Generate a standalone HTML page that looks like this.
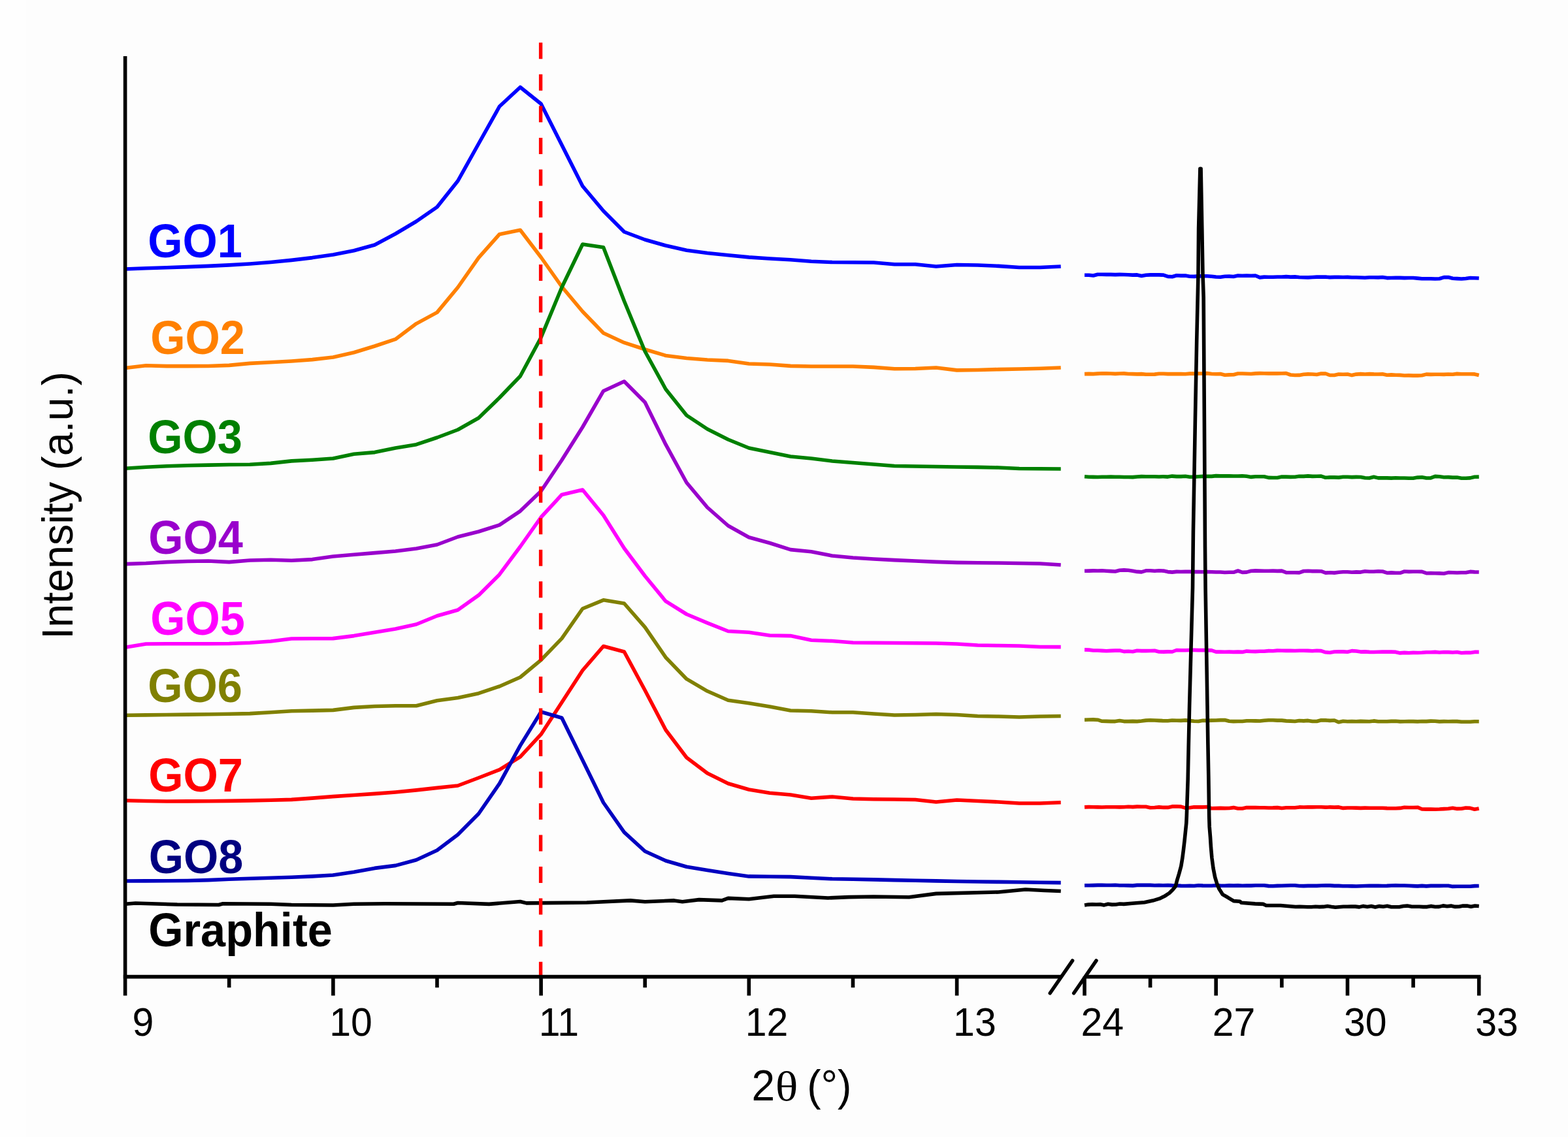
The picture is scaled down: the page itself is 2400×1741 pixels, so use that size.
<!DOCTYPE html>
<html lang="en"><head><meta charset="utf-8"><title>XRD patterns of GO1-GO8 and graphite</title>
<style>
html,body{margin:0;padding:0;background:#fff;}
body{width:2400px;height:1741px;}
svg{display:block;}
text{font-family:"Liberation Sans",Arial,Helvetica,sans-serif;}
.lab{font-weight:bold;font-size:68.5px;}
.tick{font-size:59px;fill:#000;text-anchor:middle;}
.title{font-size:64px;fill:#000;}
.crv{fill:none;stroke-width:5.6;stroke-linejoin:round;stroke-linecap:butt;}
</style></head><body>
<svg width="2400" height="1741" viewBox="0 0 2400 1741">
<rect x="0" y="0" width="2400" height="1741" fill="#fdfdfd"/>
<rect x="0" y="0" width="40" height="1741" fill="#fefefe"/>

<polyline class="crv" stroke="#0000ff" points="191.6,412.0 223.4,410.8 255.2,409.7 287.1,408.6 318.9,407.4 350.7,405.9 382.5,404.0 414.4,401.5 446.2,398.4 478.0,394.6 509.9,390.0 541.7,383.7 573.5,375.0 605.3,358.0 637.2,339.0 669.0,317.0 700.8,277.0 732.6,220.0 764.5,163.0 796.3,133.5 828.1,159.0 859.9,222.0 891.7,285.0 923.6,323.0 955.4,355.0 987.2,367.0 1019.0,376.0 1050.9,383.3 1082.7,387.5 1114.5,390.7 1146.3,393.9 1178.2,396.0 1210.0,397.8 1241.8,400.2 1273.7,401.5 1305.5,401.8 1337.3,402.0 1369.1,404.7 1401.0,404.7 1432.8,408.0 1464.6,405.5 1496.4,406.0 1528.2,407.4 1560.1,409.5 1591.9,409.5 1623.7,408.0"/>
<polyline class="crv" stroke="#0000ff" points="1660.0,421.3 1666.7,421.2 1673.4,422.0 1680.1,420.2 1686.8,420.2 1693.5,420.4 1700.2,420.4 1707.0,420.6 1713.7,420.4 1720.4,420.5 1727.1,420.8 1733.8,421.1 1740.5,420.9 1747.2,422.4 1753.9,421.2 1760.6,420.9 1767.3,420.9 1774.0,420.9 1780.7,421.1 1787.5,423.4 1794.2,423.7 1800.9,421.7 1807.6,422.1 1814.3,422.1 1821.0,423.3 1827.7,423.4 1834.4,422.9 1841.1,422.8 1847.8,422.8 1854.5,423.2 1861.2,424.0 1867.9,424.2 1874.7,423.3 1881.4,423.1 1888.1,423.5 1894.8,422.1 1901.5,422.3 1908.2,422.0 1914.9,422.3 1921.6,422.0 1928.3,424.9 1935.0,424.1 1941.7,424.2 1948.4,424.3 1955.2,424.0 1961.9,424.0 1968.6,423.6 1975.3,424.1 1982.0,423.9 1988.7,424.5 1995.4,424.7 2002.1,424.9 2008.8,424.5 2015.5,424.1 2022.2,424.1 2028.9,424.1 2035.6,424.6 2042.4,424.4 2049.1,424.4 2055.8,424.5 2062.5,424.4 2069.2,424.7 2075.9,424.8 2082.6,425.0 2089.3,425.2 2096.0,424.7 2102.7,424.8 2109.4,424.9 2116.1,424.5 2122.9,425.6 2129.6,425.5 2136.3,425.2 2143.0,425.4 2149.7,425.6 2156.4,425.5 2163.1,425.5 2169.8,426.1 2176.5,426.7 2183.2,426.8 2189.9,426.7 2196.6,427.0 2203.3,426.7 2210.1,424.6 2216.8,424.5 2223.5,426.3 2230.2,426.6 2236.9,427.0 2243.6,426.5 2250.3,425.5 2257.0,425.7 2263.7,426.0"/>
<polyline class="crv" stroke="#ff8000" points="191.6,563.5 223.4,559.8 255.2,560.6 287.1,560.6 318.9,560.5 350.7,559.4 382.5,556.4 414.4,554.7 446.2,553.0 478.0,550.6 509.9,547.0 541.7,539.7 573.5,530.0 605.3,519.4 637.2,495.6 669.0,478.4 700.8,440.0 732.6,394.7 764.5,358.7 796.3,352.3 828.1,394.0 859.9,439.0 891.7,477.0 923.6,510.0 955.4,524.7 987.2,535.0 1019.0,544.5 1050.9,548.5 1082.7,551.0 1114.5,552.4 1146.3,557.0 1178.2,558.0 1210.0,560.4 1241.8,561.0 1273.7,561.0 1305.5,561.0 1337.3,562.4 1369.1,564.8 1401.0,564.5 1432.8,563.0 1464.6,566.9 1496.4,566.5 1528.2,565.6 1560.1,565.0 1591.9,564.2 1623.7,563.0"/>
<polyline class="crv" stroke="#ff8000" points="1660.0,572.6 1666.7,572.4 1673.4,572.6 1680.1,572.1 1686.8,571.8 1693.5,571.9 1700.2,572.0 1707.0,572.4 1713.7,572.0 1720.4,571.9 1727.1,572.5 1733.8,572.6 1740.5,572.9 1747.2,572.6 1753.9,573.2 1760.6,573.2 1767.3,573.1 1774.0,572.3 1780.7,572.2 1787.5,572.6 1794.2,572.5 1800.9,572.6 1807.6,572.6 1814.3,572.7 1821.0,572.1 1827.7,572.1 1834.4,572.0 1841.1,571.9 1847.8,571.6 1854.5,572.5 1861.2,572.7 1867.9,572.6 1874.7,574.2 1881.4,573.9 1888.1,573.8 1894.8,572.0 1901.5,572.0 1908.2,572.3 1914.9,572.5 1921.6,571.9 1928.3,571.6 1935.0,571.8 1941.7,571.9 1948.4,571.9 1955.2,571.9 1961.9,571.8 1968.6,571.6 1975.3,574.0 1982.0,574.5 1988.7,574.4 1995.4,573.3 2002.1,572.9 2008.8,573.0 2015.5,573.5 2022.2,572.1 2028.9,572.0 2035.6,574.5 2042.4,574.5 2049.1,573.1 2055.8,573.3 2062.5,573.0 2069.2,574.6 2075.9,573.1 2082.6,572.6 2089.3,573.0 2096.0,572.6 2102.7,572.9 2109.4,573.0 2116.1,572.8 2122.9,574.3 2129.6,573.9 2136.3,574.3 2143.0,574.4 2149.7,575.0 2156.4,574.9 2163.1,575.1 2169.8,575.1 2176.5,574.7 2183.2,573.1 2189.9,573.4 2196.6,573.3 2203.3,573.3 2210.1,573.4 2216.8,573.0 2223.5,573.3 2230.2,572.4 2236.9,572.8 2243.6,572.8 2250.3,572.7 2257.0,572.9 2263.7,574.4"/>
<polyline class="crv" stroke="#008000" points="191.6,717.2 223.4,715.3 255.2,713.8 287.1,712.8 318.9,712.1 350.7,711.5 382.5,711.2 414.4,709.4 446.2,705.9 478.0,704.2 509.9,702.0 541.7,695.3 573.5,692.6 605.3,686.0 637.2,680.7 669.0,670.0 700.8,658.0 732.6,640.0 764.5,609.0 796.3,576.0 828.1,516.7 859.9,440.0 891.7,374.0 923.6,378.8 955.4,461.0 987.2,538.0 1019.0,596.0 1050.9,636.0 1082.7,657.0 1114.5,673.0 1146.3,686.0 1178.2,692.6 1210.0,699.0 1241.8,702.0 1273.7,706.0 1305.5,708.5 1337.3,711.0 1369.1,713.5 1401.0,714.0 1432.8,714.5 1464.6,715.0 1496.4,715.4 1528.2,716.0 1560.1,717.5 1591.9,717.8 1623.7,718.0"/>
<polyline class="crv" stroke="#008000" points="1660.0,729.8 1666.7,730.3 1673.4,730.4 1680.1,730.5 1686.8,730.2 1693.5,730.3 1700.2,730.1 1707.0,730.2 1713.7,730.3 1720.4,730.5 1727.1,730.5 1733.8,730.6 1740.5,730.0 1747.2,729.6 1753.9,729.8 1760.6,729.8 1767.3,729.8 1774.0,730.0 1780.7,729.7 1787.5,730.1 1794.2,729.1 1800.9,729.6 1807.6,729.6 1814.3,729.3 1821.0,730.3 1827.7,730.2 1834.4,729.7 1841.1,729.4 1847.8,729.4 1854.5,729.4 1861.2,728.6 1867.9,728.9 1874.7,728.9 1881.4,728.8 1888.1,729.0 1894.8,729.0 1901.5,728.7 1908.2,729.3 1914.9,730.4 1921.6,729.8 1928.3,729.8 1935.0,729.8 1941.7,731.4 1948.4,731.5 1955.2,731.5 1961.9,730.1 1968.6,730.1 1975.3,730.4 1982.0,730.2 1988.7,729.3 1995.4,729.4 2002.1,728.9 2008.8,729.4 2015.5,729.2 2022.2,729.1 2028.9,731.3 2035.6,730.9 2042.4,730.9 2049.1,731.1 2055.8,730.2 2062.5,730.3 2069.2,730.6 2075.9,730.4 2082.6,730.5 2089.3,731.7 2096.0,732.0 2102.7,730.3 2109.4,731.9 2116.1,731.7 2122.9,731.9 2129.6,732.1 2136.3,731.7 2143.0,732.0 2149.7,732.0 2156.4,732.2 2163.1,732.2 2169.8,731.1 2176.5,730.7 2183.2,732.0 2189.9,731.9 2196.6,729.4 2203.3,729.7 2210.1,730.7 2216.8,730.6 2223.5,731.1 2230.2,731.1 2236.9,732.2 2243.6,732.3 2250.3,731.9 2257.0,730.2 2263.7,730.1"/>
<polyline class="crv" stroke="#9900cc" points="191.6,863.6 223.4,862.5 255.2,860.6 287.1,859.5 318.9,859.0 350.7,860.6 382.5,858.0 414.4,857.2 446.2,858.3 478.0,856.6 509.9,852.0 541.7,849.2 573.5,846.6 605.3,844.0 637.2,840.0 669.0,834.0 700.8,822.0 732.6,814.0 764.5,803.8 796.3,782.6 828.1,752.0 859.9,704.5 891.7,654.0 923.6,598.7 955.4,584.0 987.2,616.0 1019.0,680.7 1050.9,739.0 1082.7,777.0 1114.5,805.0 1146.3,822.8 1178.2,831.5 1210.0,841.6 1241.8,844.8 1273.7,851.0 1305.5,854.0 1337.3,856.0 1369.1,857.6 1401.0,859.0 1432.8,860.4 1464.6,861.4 1496.4,861.7 1528.2,862.0 1560.1,862.5 1591.9,863.0 1623.7,865.0"/>
<polyline class="crv" stroke="#9900cc" points="1660.0,874.3 1666.7,874.1 1673.4,873.9 1680.1,874.0 1686.8,873.8 1693.5,874.2 1700.2,874.6 1707.0,875.0 1713.7,873.3 1720.4,872.9 1727.1,873.2 1733.8,874.2 1740.5,875.4 1747.2,875.9 1753.9,873.8 1760.6,873.8 1767.3,874.2 1774.0,873.8 1780.7,874.1 1787.5,875.6 1794.2,876.1 1800.9,875.4 1807.6,875.5 1814.3,875.2 1821.0,875.4 1827.7,875.6 1834.4,875.6 1841.1,875.7 1847.8,875.6 1854.5,875.8 1861.2,876.0 1867.9,876.0 1874.7,876.5 1881.4,876.2 1888.1,876.3 1894.8,874.0 1901.5,876.4 1908.2,876.1 1914.9,874.3 1921.6,873.9 1928.3,874.1 1935.0,874.3 1941.7,874.2 1948.4,874.1 1955.2,874.4 1961.9,874.1 1968.6,876.7 1975.3,876.7 1982.0,876.8 1988.7,876.9 1995.4,874.5 2002.1,874.3 2008.8,874.6 2015.5,874.5 2022.2,874.7 2028.9,877.1 2035.6,876.8 2042.4,877.1 2049.1,876.2 2055.8,875.7 2062.5,875.8 2069.2,876.2 2075.9,875.9 2082.6,876.1 2089.3,874.8 2096.0,875.3 2102.7,875.3 2109.4,874.7 2116.1,875.0 2122.9,877.2 2129.6,876.9 2136.3,877.2 2143.0,877.3 2149.7,875.0 2156.4,875.4 2163.1,875.2 2169.8,875.2 2176.5,875.4 2183.2,877.7 2189.9,877.6 2196.6,877.8 2203.3,877.9 2210.1,878.2 2216.8,876.6 2223.5,876.7 2230.2,877.0 2236.9,876.8 2243.6,876.8 2250.3,875.4 2257.0,875.9 2263.7,876.0"/>
<polyline class="crv" stroke="#ff00ff" points="191.6,991.3 223.4,986.0 255.2,985.8 287.1,985.7 318.9,985.7 350.7,985.5 382.5,984.3 414.4,982.0 446.2,978.0 478.0,977.8 509.9,977.6 541.7,973.6 573.5,968.3 605.3,963.0 637.2,956.0 669.0,943.0 700.8,934.0 732.6,911.4 764.5,879.7 796.3,837.0 828.1,792.0 859.9,757.5 891.7,750.0 923.6,789.0 955.4,839.5 987.2,882.0 1019.0,920.7 1050.9,940.5 1082.7,953.8 1114.5,966.5 1146.3,968.3 1178.2,973.0 1210.0,973.6 1241.8,980.2 1273.7,981.5 1305.5,984.0 1337.3,984.3 1369.1,984.5 1401.0,984.7 1432.8,985.0 1464.6,986.0 1496.4,988.0 1528.2,988.5 1560.1,989.0 1591.9,990.5 1623.7,990.6"/>
<polyline class="crv" stroke="#ff00ff" points="1660.0,994.9 1666.7,995.1 1673.4,996.0 1680.1,996.0 1686.8,996.4 1693.5,996.7 1700.2,996.4 1707.0,996.1 1713.7,996.0 1720.4,997.6 1727.1,997.3 1733.8,997.8 1740.5,996.3 1747.2,996.6 1753.9,996.6 1760.6,996.5 1767.3,996.3 1774.0,998.0 1780.7,998.1 1787.5,997.9 1794.2,998.0 1800.9,995.5 1807.6,995.7 1814.3,995.7 1821.0,995.5 1827.7,995.4 1834.4,995.6 1841.1,995.6 1847.8,995.6 1854.5,995.9 1861.2,998.1 1867.9,998.1 1874.7,998.3 1881.4,998.1 1888.1,998.4 1894.8,998.1 1901.5,998.4 1908.2,997.1 1914.9,997.5 1921.6,997.6 1928.3,997.3 1935.0,997.2 1941.7,996.6 1948.4,996.7 1955.2,996.1 1961.9,996.2 1968.6,996.4 1975.3,996.3 1982.0,996.5 1988.7,996.3 1995.4,996.3 2002.1,996.4 2008.8,996.8 2015.5,996.3 2022.2,996.6 2028.9,998.8 2035.6,999.3 2042.4,998.0 2049.1,997.9 2055.8,997.9 2062.5,998.2 2069.2,996.6 2075.9,997.0 2082.6,998.1 2089.3,997.9 2096.0,998.4 2102.7,998.5 2109.4,998.3 2116.1,998.1 2122.9,998.1 2129.6,998.1 2136.3,998.4 2143.0,999.9 2149.7,999.4 2156.4,999.8 2163.1,999.4 2169.8,999.5 2176.5,999.3 2183.2,998.7 2189.9,998.7 2196.6,998.4 2203.3,999.0 2210.1,998.5 2216.8,998.6 2223.5,999.0 2230.2,998.5 2236.9,999.8 2243.6,999.4 2250.3,999.4 2257.0,998.4 2263.7,998.4"/>
<polyline class="crv" stroke="#808000" points="191.6,1095.3 223.4,1094.9 255.2,1094.5 287.1,1094.1 318.9,1093.7 350.7,1093.3 382.5,1092.6 414.4,1090.7 446.2,1088.7 478.0,1088.1 509.9,1087.4 541.7,1083.4 573.5,1081.5 605.3,1080.7 637.2,1080.7 669.0,1072.8 700.8,1068.5 732.6,1061.7 764.5,1051.0 796.3,1037.0 828.1,1010.6 859.9,977.6 891.7,932.0 923.6,918.8 955.4,924.0 987.2,960.4 1019.0,1006.7 1050.9,1039.7 1082.7,1058.3 1114.5,1072.3 1146.3,1076.8 1178.2,1082.0 1210.0,1088.0 1241.8,1088.7 1273.7,1090.8 1305.5,1090.8 1337.3,1093.0 1369.1,1095.0 1401.0,1094.5 1432.8,1093.5 1464.6,1094.5 1496.4,1096.5 1528.2,1097.0 1560.1,1098.0 1591.9,1097.0 1623.7,1096.5"/>
<polyline class="crv" stroke="#808000" points="1660.0,1102.2 1666.7,1102.0 1673.4,1101.9 1680.1,1102.2 1686.8,1104.3 1693.5,1104.4 1700.2,1104.6 1707.0,1104.6 1713.7,1103.6 1720.4,1104.6 1727.1,1104.6 1733.8,1104.4 1740.5,1104.6 1747.2,1104.0 1753.9,1103.1 1760.6,1102.8 1767.3,1103.0 1774.0,1103.4 1780.7,1103.7 1787.5,1103.7 1794.2,1103.0 1800.9,1103.2 1807.6,1103.4 1814.3,1102.9 1821.0,1103.6 1827.7,1104.3 1834.4,1104.5 1841.1,1103.2 1847.8,1103.4 1854.5,1103.1 1861.2,1103.0 1867.9,1102.6 1874.7,1102.5 1881.4,1104.2 1888.1,1104.6 1894.8,1104.5 1901.5,1104.5 1908.2,1103.8 1914.9,1103.7 1921.6,1103.9 1928.3,1104.0 1935.0,1103.2 1941.7,1102.7 1948.4,1102.8 1955.2,1103.1 1961.9,1103.1 1968.6,1103.9 1975.3,1104.1 1982.0,1104.5 1988.7,1103.5 1995.4,1103.9 2002.1,1103.4 2008.8,1104.5 2015.5,1104.5 2022.2,1102.8 2028.9,1102.9 2035.6,1103.4 2042.4,1103.0 2049.1,1105.8 2055.8,1104.3 2062.5,1104.7 2069.2,1104.5 2075.9,1104.7 2082.6,1104.4 2089.3,1104.6 2096.0,1104.8 2102.7,1103.9 2109.4,1104.7 2116.1,1104.8 2122.9,1104.8 2129.6,1104.4 2136.3,1104.3 2143.0,1104.9 2149.7,1104.7 2156.4,1104.6 2163.1,1104.6 2169.8,1104.9 2176.5,1104.5 2183.2,1104.6 2189.9,1104.1 2196.6,1104.3 2203.3,1104.9 2210.1,1104.6 2216.8,1104.8 2223.5,1104.6 2230.2,1104.6 2236.9,1105.3 2243.6,1105.2 2250.3,1105.2 2257.0,1104.8 2263.7,1104.8"/>
<polyline class="crv" stroke="#ff0000" points="191.6,1225.7 223.4,1226.5 255.2,1227.0 287.1,1226.9 318.9,1226.7 350.7,1226.4 382.5,1225.9 414.4,1225.3 446.2,1224.4 478.0,1222.1 509.9,1219.6 541.7,1217.5 573.5,1215.4 605.3,1213.0 637.2,1209.9 669.0,1206.4 700.8,1203.0 732.6,1191.0 764.5,1178.6 796.3,1158.8 828.1,1124.4 859.9,1075.4 891.7,1026.5 923.6,989.5 955.4,998.0 987.2,1057.0 1019.0,1117.8 1050.9,1160.0 1082.7,1184.0 1114.5,1199.8 1146.3,1209.0 1178.2,1214.3 1210.0,1217.0 1241.8,1222.3 1273.7,1220.0 1305.5,1223.0 1337.3,1223.8 1369.1,1224.0 1401.0,1224.5 1432.8,1228.0 1464.6,1225.0 1496.4,1226.5 1528.2,1228.0 1560.1,1230.0 1591.9,1230.0 1623.7,1228.7"/>
<polyline class="crv" stroke="#ff0000" points="1660.0,1235.9 1666.7,1235.6 1673.4,1235.8 1680.1,1235.9 1686.8,1236.0 1693.5,1235.7 1700.2,1235.7 1707.0,1235.7 1713.7,1235.9 1720.4,1235.7 1727.1,1235.2 1733.8,1235.6 1740.5,1235.1 1747.2,1235.3 1753.9,1235.3 1760.6,1236.8 1767.3,1236.5 1774.0,1235.9 1780.7,1236.4 1787.5,1236.4 1794.2,1234.9 1800.9,1234.8 1807.6,1235.1 1814.3,1237.1 1821.0,1236.8 1827.7,1235.8 1834.4,1235.9 1841.1,1235.9 1847.8,1235.5 1854.5,1237.8 1861.2,1237.6 1867.9,1237.4 1874.7,1237.6 1881.4,1237.5 1888.1,1236.6 1894.8,1238.0 1901.5,1238.0 1908.2,1236.5 1914.9,1236.6 1921.6,1236.5 1928.3,1236.7 1935.0,1236.7 1941.7,1237.0 1948.4,1236.9 1955.2,1236.6 1961.9,1237.5 1968.6,1236.8 1975.3,1236.8 1982.0,1236.8 1988.7,1235.9 1995.4,1236.0 2002.1,1235.8 2008.8,1235.9 2015.5,1235.8 2022.2,1235.8 2028.9,1236.1 2035.6,1235.9 2042.4,1236.1 2049.1,1235.9 2055.8,1237.4 2062.5,1237.0 2069.2,1237.0 2075.9,1237.1 2082.6,1237.4 2089.3,1237.1 2096.0,1237.3 2102.7,1237.2 2109.4,1237.2 2116.1,1237.2 2122.9,1237.6 2129.6,1237.7 2136.3,1237.7 2143.0,1237.4 2149.7,1236.3 2156.4,1236.5 2163.1,1236.5 2169.8,1236.2 2176.5,1239.0 2183.2,1239.1 2189.9,1239.0 2196.6,1239.2 2203.3,1239.0 2210.1,1238.6 2216.8,1238.2 2223.5,1237.2 2230.2,1238.4 2236.9,1238.3 2243.6,1237.0 2250.3,1237.4 2257.0,1239.3 2263.7,1237.9"/>
<polyline class="crv" stroke="#0000c0" points="191.6,1349.0 223.4,1348.9 255.2,1348.7 287.1,1348.5 318.9,1347.6 350.7,1346.3 382.5,1345.3 414.4,1344.3 446.2,1343.3 478.0,1341.9 509.9,1340.0 541.7,1335.3 573.5,1329.4 605.3,1325.4 637.2,1316.7 669.0,1302.0 700.8,1278.0 732.6,1246.0 764.5,1199.8 796.3,1141.6 828.1,1090.0 859.9,1099.3 891.7,1164.0 923.6,1229.0 955.4,1274.4 987.2,1303.5 1019.0,1318.0 1050.9,1327.3 1082.7,1332.6 1114.5,1337.4 1146.3,1341.9 1178.2,1342.3 1210.0,1342.6 1241.8,1344.2 1273.7,1345.8 1305.5,1346.3 1337.3,1346.9 1369.1,1347.6 1401.0,1348.3 1432.8,1348.9 1464.6,1349.5 1496.4,1350.0 1528.2,1350.4 1560.1,1350.8 1591.9,1351.2 1623.7,1351.6"/>
<polyline class="crv" stroke="#0000c0" points="1660.0,1355.7 1666.7,1355.7 1673.4,1355.6 1680.1,1355.4 1686.8,1355.4 1693.5,1355.5 1700.2,1355.5 1707.0,1355.3 1713.7,1355.8 1720.4,1355.8 1727.1,1355.9 1733.8,1356.1 1740.5,1355.4 1747.2,1355.2 1753.9,1355.4 1760.6,1355.4 1767.3,1355.7 1774.0,1355.5 1780.7,1355.8 1787.5,1355.5 1794.2,1355.9 1800.9,1356.0 1807.6,1356.4 1814.3,1356.5 1821.0,1356.4 1827.7,1356.5 1834.4,1355.8 1841.1,1356.1 1847.8,1356.2 1854.5,1356.2 1861.2,1355.7 1867.9,1356.1 1874.7,1356.3 1881.4,1355.9 1888.1,1356.1 1894.8,1355.9 1901.5,1356.3 1908.2,1356.1 1914.9,1356.1 1921.6,1355.8 1928.3,1355.7 1935.0,1355.8 1941.7,1356.6 1948.4,1356.8 1955.2,1356.4 1961.9,1356.3 1968.6,1356.0 1975.3,1355.7 1982.0,1355.8 1988.7,1356.5 1995.4,1356.6 2002.1,1356.4 2008.8,1356.4 2015.5,1356.4 2022.2,1356.0 2028.9,1355.8 2035.6,1355.9 2042.4,1356.4 2049.1,1356.4 2055.8,1356.8 2062.5,1356.8 2069.2,1356.9 2075.9,1357.0 2082.6,1356.7 2089.3,1356.5 2096.0,1356.4 2102.7,1356.4 2109.4,1356.2 2116.1,1356.5 2122.9,1356.4 2129.6,1356.0 2136.3,1355.9 2143.0,1356.0 2149.7,1356.0 2156.4,1356.2 2163.1,1356.6 2169.8,1356.9 2176.5,1356.4 2183.2,1356.9 2189.9,1356.4 2196.6,1356.2 2203.3,1356.4 2210.1,1356.3 2216.8,1356.2 2223.5,1357.4 2230.2,1357.2 2236.9,1357.2 2243.6,1357.2 2250.3,1357.2 2257.0,1356.6 2263.7,1356.5"/>
<polyline class="crv" stroke="#000" points="191.6,1384.2 207.5,1383.0 223.4,1383.5 271.2,1385.0 334.8,1385.5 341.2,1383.8 414.4,1384.2 446.2,1385.5 509.9,1386.0 541.7,1384.2 589.4,1383.7 694.4,1384.2 700.8,1382.5 748.5,1384.4 796.3,1380.5 805.8,1382.9 898.1,1382.0 964.9,1378.9 987.2,1380.7 1031.8,1378.9 1044.5,1380.7 1070.0,1377.6 1105.0,1378.9 1114.5,1375.4 1146.3,1376.8 1184.5,1372.3 1216.4,1372.3 1267.3,1375.0 1299.1,1373.6 1337.3,1373.0 1391.4,1373.7 1432.8,1368.4 1528.2,1366.0 1569.6,1362.0 1598.3,1363.5 1623.7,1364.5"/>
<polyline class="crv" style="stroke-linejoin:round" stroke="#000" points="1660.0,1386.0 1666.0,1385.1 1672.0,1384.8 1678.0,1385.0 1684.0,1384.7 1690.0,1385.9 1696.0,1384.3 1702.0,1385.1 1708.0,1385.0 1714.0,1384.0 1720.0,1384.4 1732.7,1383.3 1751.7,1381.7 1764.4,1379.1 1775.0,1375.9 1783.5,1371.7 1789.8,1367.5 1795.1,1362.2 1799.4,1356.9 1801.5,1348.4 1804.7,1337.8 1807.8,1326.2 1809.9,1313.5 1811.5,1300.8 1813.1,1287.0 1814.7,1271.2 1815.8,1260.6 1816.3,1250.0 1818.2,1193.0 1819.3,1140.0 1820.6,1081.0 1825.5,900.0 1826.4,814.0 1828.2,712.0 1829.3,648.0 1831.7,522.0 1834.0,420.0 1834.6,350.0 1836.9,258.2 1838.1,258.2 1839.8,350.0 1841.0,420.0 1842.2,455.0 1843.4,645.0 1844.5,838.0 1845.1,900.0 1848.0,1081.0 1848.9,1140.0 1849.9,1193.0 1850.7,1250.0 1851.2,1265.9 1852.5,1281.7 1853.5,1297.6 1854.9,1313.5 1857.0,1329.4 1859.7,1343.1 1862.9,1353.7 1866.0,1361.1 1871.3,1369.6 1878.7,1373.8 1888.3,1379.6 1897.8,1380.2 1899.9,1382.3 1921.0,1383.9 1933.8,1384.4 1938.0,1386.5 1960.0,1386.5 1983.0,1388.5 1989.1,1388.3 1995.2,1388.5 2001.3,1388.7 2007.4,1388.7 2013.5,1388.2 2019.6,1388.6 2025.7,1388.4 2031.8,1387.5 2037.9,1388.5 2044.0,1389.2 2050.1,1388.7 2056.2,1388.2 2062.3,1388.3 2068.4,1388.0 2074.5,1388.1 2080.6,1388.9 2086.7,1387.4 2092.8,1388.4 2098.9,1387.5 2105.0,1389.0 2111.1,1387.6 2117.2,1388.3 2123.3,1387.3 2129.5,1388.7 2135.6,1388.7 2141.7,1388.7 2147.8,1387.5 2153.9,1387.1 2160.0,1388.1 2166.1,1388.2 2172.2,1388.2 2178.3,1388.6 2184.4,1388.6 2190.5,1387.4 2196.6,1388.5 2202.7,1388.4 2208.8,1386.9 2214.9,1387.7 2221.0,1387.1 2227.1,1388.4 2233.2,1388.2 2239.3,1387.1 2245.4,1387.0 2251.5,1388.3 2257.6,1387.0 2263.7,1387.5"/>
<line x1="827.6" y1="65.3" x2="827.6" y2="1496" stroke="#ff0000" stroke-width="5.4" stroke-dasharray="25 23.53"/>
<g stroke="#000" stroke-width="5.6" fill="none" stroke-linecap="butt">
<line x1="191.6" y1="86" x2="191.6" y2="1524.5"/>
<line x1="188.8" y1="1495.6" x2="1624" y2="1495.6"/>
<line x1="1660" y1="1495.6" x2="2266.5" y2="1495.6"/>
<line x1="509.9" y1="1495.6" x2="509.9" y2="1524.5"/>
<line x1="828.1" y1="1495.6" x2="828.1" y2="1524.5"/>
<line x1="1146.3" y1="1495.6" x2="1146.3" y2="1524.5"/>
<line x1="1464.6" y1="1495.6" x2="1464.6" y2="1524.5"/>
<line x1="350.7" y1="1495.6" x2="350.7" y2="1512.2"/>
<line x1="669.0" y1="1495.6" x2="669.0" y2="1512.2"/>
<line x1="987.2" y1="1495.6" x2="987.2" y2="1512.2"/>
<line x1="1305.5" y1="1495.6" x2="1305.5" y2="1512.2"/>
<line x1="1660.0" y1="1495.6" x2="1660.0" y2="1524.5"/>
<line x1="1861.2" y1="1495.6" x2="1861.2" y2="1524.5"/>
<line x1="2062.5" y1="1495.6" x2="2062.5" y2="1524.5"/>
<line x1="2263.7" y1="1495.6" x2="2263.7" y2="1524.5"/>
<line x1="1760.6" y1="1495.6" x2="1760.6" y2="1512.2"/>
<line x1="1961.9" y1="1495.6" x2="1961.9" y2="1512.2"/>
<line x1="2163.1" y1="1495.6" x2="2163.1" y2="1512.2"/>
<line x1="1607.2" y1="1520.8" x2="1641.6" y2="1470.9" stroke-width="5.4" stroke-linecap="round"/>
<line x1="1643.6" y1="1520.8" x2="1678.0" y2="1470.9" stroke-width="5.4" stroke-linecap="round"/>
</g>
<text class="tick" transform="translate(218.9,1586) scale(1,1.04)">9</text>
<text class="tick" transform="translate(537.1,1586) scale(1,1.04)">10</text>
<text class="tick" transform="translate(855.4,1586) scale(1,1.04)">11</text>
<text class="tick" transform="translate(1173.6,1586) scale(1,1.04)">12</text>
<text class="tick" transform="translate(1491.9,1586) scale(1,1.04)">13</text>
<text class="tick" transform="translate(1687.3,1586) scale(1,1.04)">24</text>
<text class="tick" transform="translate(1888.5,1586) scale(1,1.04)">27</text>
<text class="tick" transform="translate(2089.8,1586) scale(1,1.04)">30</text>
<text class="tick" transform="translate(2291.0,1586) scale(1,1.04)">33</text>
<g aria-label="2θ (°)">
<text class="title" transform="translate(1150.5,1685) scale(1,1.04)">2</text>
<text class="title" transform="translate(1186.8,1685) scale(1.13,1)" style="font-family:'Liberation Serif','DejaVu Serif',serif">θ</text>
<text class="title" transform="translate(1235.2,1685) scale(1,1.04)">(°)</text>
</g>
<text class="title" style="font-size:64.7px" transform="translate(111.3,978.8) rotate(-90) scale(1,1.04)">Intensity (a.u.)</text>
<text class="lab" transform="translate(226.2,393.5) scale(1,1.055)" fill="#0000ff">GO1</text>
<text class="lab" transform="translate(230.2,541.5) scale(1,1.055)" fill="#ff8000">GO2</text>
<text class="lab" transform="translate(226.2,693.5) scale(1,1.055)" fill="#008000">GO3</text>
<text class="lab" transform="translate(227.2,847.5) scale(1,1.055)" fill="#9900cc">GO4</text>
<text class="lab" transform="translate(230.2,971.7) scale(1,1.055)" fill="#ff00ff">GO5</text>
<text class="lab" transform="translate(226.2,1075.0) scale(1,1.055)" fill="#808000">GO6</text>
<text class="lab" transform="translate(227.2,1211.7) scale(1,1.055)" fill="#ff0000">GO7</text>
<text class="lab" transform="translate(227.7,1337.0) scale(1,1.055)" fill="#000080">GO8</text>
<text class="lab" transform="translate(227.2,1449.0) scale(1,1.055)" fill="#000000">Graphite</text>
</svg>
</body></html>
